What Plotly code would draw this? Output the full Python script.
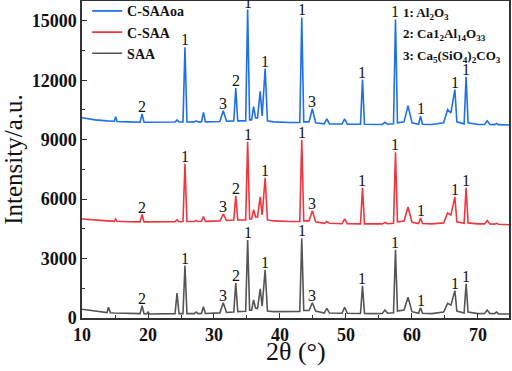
import plotly.graph_objects as go

# 2-theta sample positions (degrees)
two_theta = [10.0, 12.0, 13.8, 14.0, 14.3, 14.9, 15.1, 15.3, 17.0, 18.8, 19.1, 19.4,
             19.8, 20.0, 20.2, 22.0, 24.1, 24.4, 24.7, 25.3, 25.6, 25.9, 27.0, 27.3,
             27.6, 28.1, 28.4, 28.7, 30.0, 30.9, 31.4, 31.9, 33.0, 33.3, 33.6, 34.8,
             35.1, 35.4, 35.7, 36.0, 36.3, 36.6, 37.0, 37.3, 37.75, 38.1, 39.0, 40.0,
             41.5, 43.0, 43.3, 43.6, 44.4, 44.9, 45.4, 46.7, 47.1, 47.5, 49.4, 49.8,
             50.2, 52.2, 52.5, 52.8, 54.0, 55.5, 55.9, 56.3, 57.2, 57.5, 57.8, 58.8,
             59.4, 60.0, 61.0, 61.3, 61.6, 63.0, 64.8, 65.4, 65.9, 66.5, 66.8, 67.9,
             68.2, 68.5, 70.0, 71.0, 71.4, 71.8, 72.5, 72.8, 73.1, 75.0]

saa = [440, 340, 270, 540, 260, 250, 250, 245, 230, 220, 620, 220,
       210, 300, 200, 200, 220, 1260, 220, 220, 2650, 220, 220, 300,
       220, 230, 570, 230, 240, 260, 770, 280, 300, 1760, 320, 340,
       3940, 400, 400, 910, 500, 480, 1470, 600, 2430, 350, 320, 330,
       320, 330, 4030, 380, 380, 770, 350, 250, 490, 250, 240, 540,
       240, 230, 1620, 230, 220, 230, 400, 240, 260, 3440, 350, 400,
       1050, 320, 240, 520, 240, 220, 300, 740, 650, 1380, 350, 250,
       1720, 300, 220, 230, 400, 230, 220, 300, 210, 200]

c_saa = [5000, 4930, 4900, 4900, 4900, 4880, 4990, 4880, 4860, 4850, 5220, 4850,
         4850, 4850, 4850, 4850, 4860, 4950, 4860, 4870, 7780, 4870, 4870, 4920,
         4870, 4880, 5120, 4880, 4880, 4900, 5250, 4920, 4950, 6170, 4950, 4950,
         8900, 5000, 5000, 5460, 5100, 5100, 6110, 5200, 7080, 4950, 4900, 4880,
         4870, 4870, 9000, 4900, 4900, 5420, 4850, 4780, 4870, 4780, 4760, 5000,
         4760, 4750, 6570, 4750, 4740, 4750, 4820, 4760, 4780, 8360, 4850, 4900,
         5600, 4830, 4770, 5050, 4770, 4750, 4800, 5300, 5200, 6110, 4850, 4780,
         6570, 4800, 4750, 4750, 4920, 4750, 4740, 4780, 4730, 4700]

c_saaoa = [10110, 10000, 9950, 9950, 9950, 9930, 10160, 9920, 9900, 9880, 10300, 9880,
           9880, 9880, 9880, 9880, 9890, 10000, 9890, 9890, 13670, 9890, 9900, 9950,
           9900, 9900, 10380, 9900, 9900, 9920, 10460, 9930, 9950, 11600, 9950, 9950,
           15570, 10000, 10000, 10670, 10100, 10100, 11440, 10200, 12590, 9950, 9900, 9880,
           9870, 9870, 15170, 9900, 9900, 10560, 9850, 9800, 10050, 9800, 9790, 10050,
           9780, 9780, 12030, 9780, 9770, 9770, 9880, 9780, 9800, 15070, 9850, 9900,
           10720, 9850, 9780, 10180, 9780, 9770, 9850, 10520, 10350, 11530, 9900, 9800,
           12170, 9850, 9770, 9770, 9950, 9770, 9760, 9820, 9760, 9740]

# peak labels: position and phase number
peak_pos = [19.1, 25.6, 31.4, 33.3, 35.1, 37.75, 43.3, 44.9, 52.5, 57.5, 61.3, 66.5, 68.2]
peak_lab = ["2", "1", "3", "2", "1", "1", "1", "3", "1", "1", "1", "1", "1"]

series_names = ["C-SAAoa", "C-SAA", "SAA"]
series_vals = [c_saaoa, c_saa, saa]
colors = ["#1f6fea", "#f2353d", "#555555"]

phase_lines = ["1: Al<sub>2</sub>O<sub>3</sub>",
               "2: Ca1<sub>2</sub>Al<sub>14</sub>O<sub>33</sub>",
               "3: Ca<sub>5</sub>(SiO<sub>4</sub>)<sub>2</sub>CO<sub>3</sub>"]

SERIF = "Liberation Serif"

fig = go.Figure()
for name, vals, col in zip(series_names, series_vals, colors):
    fig.add_trace(go.Scatter(x=two_theta, y=vals, mode="lines", name=name,
                             line=dict(color=col, width=1.6)))

annotations = []
for vals in series_vals:
    for p, lab in zip(peak_pos, peak_lab):
        i = two_theta.index(p)
        annotations.append(dict(x=p, y=vals[i], text=lab, showarrow=False,
                                xref="x", yref="y", yanchor="bottom", yshift=-3,
                                font=dict(family=SERIF, size=16, color="#111")))

for k, t in enumerate(phase_lines):
    annotations.append(dict(x=0.748, y=0.995 - k * 0.069, xref="paper", yref="paper",
                            xanchor="left", yanchor="top", text=t, showarrow=False,
                            font=dict(family=SERIF, size=13, color="#111", weight="bold")))

# x-axis title
annotations.append(dict(x=0.5, y=-0.107, xref="paper", yref="paper", xanchor="center",
                        yanchor="middle", text="2\u03b8 (\u00b0)", showarrow=False,
                        font=dict(family=SERIF, size=26, color="#111")))

fig.update_layout(
    width=512, height=371,
    margin=dict(l=82, r=3, t=1, b=53, autoexpand=False),
    paper_bgcolor="white", plot_bgcolor="white",
    showlegend=True,
    legend=dict(x=0.012, y=1.018, xanchor="left", yanchor="top",
                bgcolor="rgba(0,0,0,0)", tracegroupgap=0,
                font=dict(family=SERIF, size=14, color="#111", weight="bold"),
                itemwidth=30),
    annotations=annotations,
)
fig.update_xaxes(range=[10, 74.7], showgrid=False, zeroline=False, automargin=False,
                 showline=True, mirror=True, linecolor="#333", linewidth=1.5,
                 ticks="inside", ticklen=5, tickwidth=1.2, tickcolor="#333",
                 tickvals=[10, 20, 30, 40, 50, 60, 70], tickformat="d",
                 minor=dict(dtick=5, ticks="inside", ticklen=3, tickcolor="#333", tick0=10),
                 tickfont=dict(family=SERIF, size=18, color="#111", weight="bold"))
fig.update_yaxes(range=[0, 16000], showgrid=False, zeroline=False, automargin=False,
                 showline=True, mirror=True, linecolor="#333", linewidth=1.5,
                 ticks="inside", ticklen=5, tickwidth=1.2, tickcolor="#333",
                 tickvals=[0, 3000, 6000, 9000, 12000, 15000], tickformat="d",
                 minor=dict(dtick=1500, ticks="inside", ticklen=3, tickcolor="#333", tick0=0),
                 tickfont=dict(family=SERIF, size=18, color="#111", weight="bold"),
                 title=dict(text="Intensity/a.u.", font=dict(family=SERIF, size=25, color="#111"),
                            standoff=2))

fig.write_html("out.html", config={"displayModeBar": False},
               post_script="document.body.style.margin='0px';")
